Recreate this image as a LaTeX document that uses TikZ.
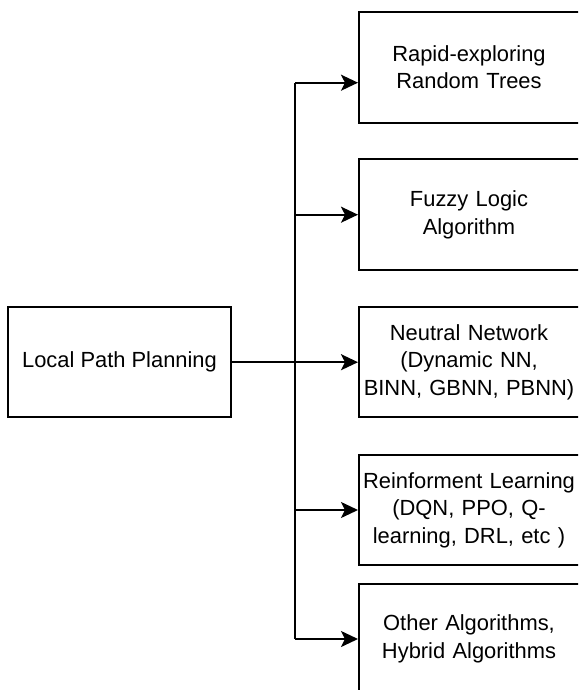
\documentclass[tikz,border=0pt]{standalone}
\usepackage{fontspec}
\setmainfont{Liberation Sans}
\usetikzlibrary{arrows.meta}
\begin{document}
\begin{tikzpicture}[x=1pt,y=-1pt,
  box/.style={draw=black,line width=2pt,rectangle,align=center,inner sep=0pt,
    font=\fontsize{21.9}{27.5}\selectfont},
  rbox/.style={box,minimum width=240pt,minimum height=110.5pt,text width=220pt},
  conn/.style={line width=2pt,draw=black},
  arr/.style={conn,-{Stealth[length=17pt,width=16pt,inset=4pt]}}]
\useasboundingbox (0,0) rectangle (578,690);
\clip (0,0) rectangle (578,690);
\fill[white] (0,0) rectangle (578,690);
\node[box,minimum width=222.4pt,minimum height=110.4pt] (lp) at (119.5,362.2) {Local Path Planning};
\node[rbox,minimum height=111pt] (b1) at (479,67.2) {\hspace*{-20pt}Rapid-exploring\\\hspace*{-20pt}Random Trees};
\node[rbox] (b2) at (479,214.7) {\hspace*{-20pt}Fuzzy Logic\\\hspace*{-20pt}Algorithm};
\node[rbox] (b3) at (479,362.2) {\hspace*{-20pt}Neutral Network\\\hspace*{-20pt}(Dynamic NN,\\\hspace*{-20pt}BINN, GBNN, PBNN)};
\node[rbox] (b4) at (479,510) {\hspace*{-20pt}Reinforment Learning\\\hspace*{-20pt}(DQN, PPO, Q-\\\hspace*{-20pt}learning, DRL, etc )};
\node[rbox] (b5) at (479,639) {\hspace*{-20pt}Other Algorithms,\\\hspace*{-20pt}Hybrid Algorithms};
\coordinate (j1) at (295,82.7);
\coordinate (j5) at (295,639);
\draw[conn] (j1) -- (j5);
\draw[arr] (lp.east) -- (b3.west);
\draw[arr] (j1) -- (j1 -| b1.west);
\draw[arr] (j1 |- b2.west) -- (b2.west);
\draw[arr] (j1 |- b4.west) -- (b4.west);
\draw[arr] (j5) -- (b5.west);
\end{tikzpicture}
\end{document}
